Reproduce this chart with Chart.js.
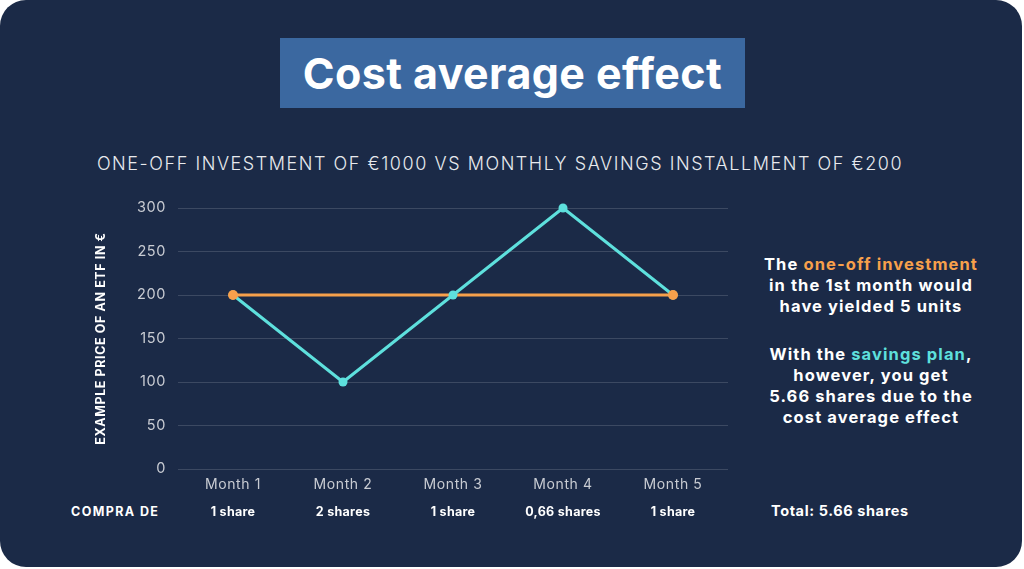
<!DOCTYPE html>
<html>
<head>
<meta charset="utf-8">
<script src="https://cdn.jsdelivr.net/npm/chart.js@4"></script>
<style>
  html, body { margin: 0; padding: 0; background: #fff; }
  body { width: 1024px; height: 569px; position: relative; overflow: hidden; font-family: Inter, "Open Sans", sans-serif; }
  #card { position: absolute; left: 0; top: 0; width: 1022px; height: 567px; background: #1b2a47; border-radius: 26px; }
  #titleBox { position: absolute; left: 280px; top: 38px; width: 465px; height: 70px; background: #3b68a0; color: #fff;
    font-weight: 700; font-size: 43px; line-height: 70px; text-align: center; letter-spacing: 0.4px; }
  #subtitle { position: absolute; left: 0; width: 1000px; top: 153px; text-align: center; color: #e8eaee;
    font-weight: 300; font-size: 18px; letter-spacing: 1.55px; }
  .note { position: absolute; left: 735px; width: 272px; text-align: center; color: #fff; font-weight: 700;
    font-size: 16.5px; line-height: 21px; letter-spacing: 1.1px; }
  .orange { color: #f7a04b; }
  .teal { color: #5ee0dd; }
  #compra { position: absolute; left: 71px; top: 504px; color: #fff; font-weight: 700; font-size: 12.5px; letter-spacing: 1.4px; }
  #total { position: absolute; left: 771px; top: 502px; color: #fff; font-weight: 700; font-size: 14.5px; letter-spacing: 0.6px; }
  canvas { position: absolute; left: 0; top: 0; }
</style>
</head>
<body>
<div id="card"></div>
<div id="titleBox">Cost average effect</div>
<div id="subtitle">ONE-OFF INVESTMENT OF €1000 VS MONTHLY SAVINGS INSTALLMENT OF €200</div>
<div class="note" style="top:254px">The <span class="orange">one-off investment</span><br>in the 1st month would<br>have yielded 5 units</div>
<div class="note" style="top:344px">With the <span class="teal">savings plan</span>,<br>however, you get<br>5.66 shares due to the<br>cost average effect</div>
<div id="compra">COMPRA DE</div>
<div id="total">Total: 5.66 shares</div>
<canvas id="chart" width="1024" height="569"></canvas>
<script>
const months = ['Month 1', 'Month 2', 'Month 3', 'Month 4', 'Month 5'];
const oneOffPrice = [200, 200, 200, 200, 200];
const savingsPrice = [200, 100, 200, 300, 200];
const sharesBought = ['1 share', '2 shares', '1 share', '0,66 shares', '1 share'];
const yTicks = [0, 50, 100, 150, 200, 250, 300];

const orange = '#f7a04b';
const teal = '#5ee0dd';
const fontFamily = 'Inter, "Open Sans", sans-serif';

// end markers of the one-off line sit on top of the teal line
const oneOffEnds = oneOffPrice.map((v, i) => (i === 0 || i === oneOffPrice.length - 1) ? v : null);

// wider letter spacing for canvas text, closer to the original typeface
const spacing = {
  id: 'spacing',
  beforeDraw(chart) { chart.ctx.letterSpacing = '0.6px'; },
  afterDraw(chart) { chart.ctx.letterSpacing = '0px'; }
};

const sharesRow = {
  id: 'sharesRow',
  afterDraw(chart) {
    const ctx = chart.ctx;
    const x = chart.scales.x;
    ctx.save();
    ctx.letterSpacing = '0.3px';
    ctx.fillStyle = '#ffffff';
    ctx.font = '700 12.5px ' + fontFamily;
    ctx.textAlign = 'center';
    ctx.textBaseline = 'middle';
    sharesBought.forEach((s, i) => {
      ctx.fillText(s, x.getPixelForValue(i), chart.chartArea.bottom + 43);
    });
    ctx.restore();
  }
};

new Chart(document.getElementById('chart').getContext('2d'), {
  type: 'line',
  data: {
    labels: months,
    datasets: [
      {
        label: 'One-off investment',
        data: oneOffPrice,
        borderColor: orange,
        borderWidth: 3,
        pointRadius: 0,
        clip: false,
        order: 3
      },
      {
        label: 'Savings plan',
        data: savingsPrice,
        borderColor: teal,
        backgroundColor: teal,
        borderWidth: 3,
        pointRadius: 4.5,
        pointBorderWidth: 0,
        clip: false,
        order: 2
      },
      {
        label: 'One-off ends',
        data: oneOffEnds,
        showLine: false,
        backgroundColor: orange,
        pointRadius: 5,
        pointBorderWidth: 0,
        clip: false,
        order: 1
      }
    ]
  },
  options: {
    responsive: false,
    animation: false,
    layout: { padding: { left: 94, right: 296, top: 208, bottom: 70 } },
    scales: {
      x: {
        offset: true,
        grid: { display: false, drawTicks: false },
        border: { display: false },
        ticks: { color: '#c9ccd3', padding: 7, font: { family: fontFamily, size: 14 } },
        afterFit(scale) { scale.height = 30; }
      },
      y: {
        min: 0,
        max: 300,
        afterBuildTicks(scale) { scale.ticks = yTicks.map(v => ({ value: v })); },
        grid: { color: 'rgba(255,255,255,0.15)', lineWidth: 1, drawTicks: false },
        border: { display: false },
        ticks: { color: '#c9ccd3', padding: 12, font: { family: fontFamily, size: 14.5 } },
        title: {
          display: true,
          text: 'EXAMPLE PRICE OF AN ETF IN €',
          color: '#ffffff',
          padding: 0,
          font: { family: fontFamily, size: 12.5, weight: '700' }
        },
        afterFit(scale) { scale.width = 84; }
      }
    },
    plugins: {
      legend: { display: false },
      tooltip: { enabled: false }
    }
  },
  plugins: [spacing, sharesRow]
});
</script>
</body>
</html>
